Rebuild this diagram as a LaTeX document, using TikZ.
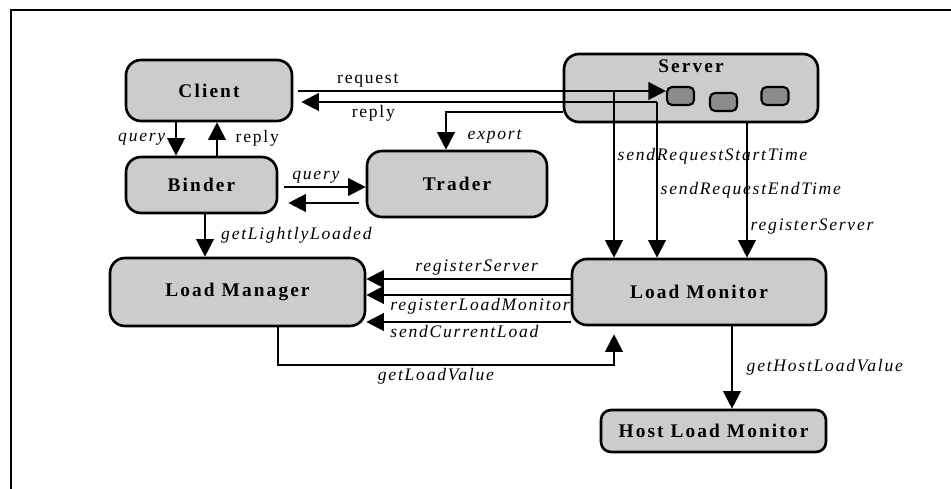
\documentclass[tikz,border=0pt]{standalone}
\usepackage{fontspec}
\setmainfont{Liberation Serif}
\newfontfamily\unitfont{Liberation Serif}[LetterSpace=11]
\newfontfamily\msgfont{Liberation Serif}[LetterSpace=10]
\usepackage{tikz}
\usetikzlibrary{arrows.meta}

\definecolor{unitgray}{gray}{0.8}
\definecolor{portgray}{gray}{0.55}

\tikzset{
  unittext/.style={font=\unitfont\bfseries\fontsize{11}{13}\selectfont},
  unit/.style={draw, line width=1.5pt, fill=unitgray, rounded corners=0.3cm,
    inner sep=0pt, unittext},
  port/.style={draw, line width=1.2pt, fill=portgray, rounded corners=0.1cm,
    minimum width=0.54cm, minimum height=0.36cm, inner sep=0pt},
  call/.style={line width=1.25pt, -{Triangle[length=10pt,width=10pt]}},
  msg/.style={font=\msgfont\itshape\fontsize{10}{12}\selectfont, inner sep=1.5pt},
  plainmsg/.style={font=\msgfont\fontsize{10}{12}\selectfont, inner sep=1.5pt}
}

\begin{document}
\begin{tikzpicture}[x=0.02cm, y=-0.02cm]
  \useasboundingbox (0,0) rectangle (951,489);
  \draw[line width=1.2pt] (11,489) -- (11,10) -- (951,10);

  % components
  \node[unit, minimum width=3.32cm, minimum height=1.22cm] (client) at (209,90.5) {Client};
  \node[unit, minimum width=5.08cm, minimum height=1.36cm,
    label={[unittext, label distance=-0.52cm]north:Server}] (server) at (691,88) {};
  \node[port] (p1) at (680.5,96) {};
  \node[port] (p2) at (723.5,102) {};
  \node[port] (p3) at (775,96) {};
  \node[unit, minimum width=3.02cm, minimum height=1.12cm] (binder) at (201.5,185) {Binder};
  \node[unit, minimum width=3.6cm, minimum height=1.32cm] (trader) at (457,184) {Trader};
  \node[unit, minimum width=5.1cm, minimum height=1.36cm] (lmgr) at (237.5,292) {Load Manager};
  \node[unit, minimum width=5.08cm, minimum height=1.32cm] (lmon) at (699,292) {Load Monitor};
  \node[unit, minimum width=4.5cm, minimum height=0.84cm, rounded corners=0.2cm] (hlm) at (713.5,431) {Host Load Monitor};

  \coordinate (st) at (614,91);
  \coordinate (et) at (657,102);
  \coordinate (ex) at (446,112);
  \coordinate (g1) at (278,365);
  \coordinate (g2) at (614,365);

  % client and server
  \draw[call, shorten <=0.1cm] (client.east |- st) -- node[plainmsg, above, pos=0.2] {request} (p1.west |- st);
  \draw[call, shorten >=0.16cm] (et) -- node[plainmsg, below, pos=0.78] {reply} (client.east |- et);
  \draw[call] (server.west |- ex) -- (ex) -- node[msg, right=0.36cm, pos=0.65] {export} (ex |- trader.north);

  % server to load monitor
  \draw[call] (st) -- node[msg, right, pos=0.39] {sendRequestStartTime} (st |- lmon.north);
  \draw[call] (et) -- node[msg, right, pos=0.57] {sendRequestEndTime} (et |- lmon.north);
  \draw[call] (server.south -| 747,0) -- node[msg, right, pos=0.77] {registerServer} (lmon.north -| 747,0);

  % client, binder, trader
  \draw[call] (client.south -| 176,0) -- node[msg, left=0.14cm] {query} (binder.north -| 176,0);
  \draw[call] (binder.north -| 217,0) -- node[plainmsg, right=0.3cm, pos=0.53] {reply} (client.south -| 217,0);
  \draw[call, shorten <=0.12cm] (binder.east |- 0,187) -- node[msg, above, pos=0.43] {query} (trader.west |- 0,187);
  \draw[call, shorten <=0.14cm, shorten >=0.2cm] (trader.west |- 0,203) -- (binder.east |- 0,203);
  \draw[call] (binder.south -| 205,0) -- node[msg, right=0.25cm] {getLightlyLoaded} (lmgr.north -| 205,0);

  % load manager and load monitor
  \draw[call] (lmon.west |- 0,279) -- node[msg, above, pos=0.46] {registerServer} (lmgr.east |- 0,279);
  \draw[call] (lmon.west |- 0,295) -- node[msg, anchor=north west, pos=0.9] {registerLoadMonitor} (lmgr.east |- 0,295);
  \draw[call] (lmon.west |- 0,322) -- node[msg, anchor=north west, pos=0.9] {sendCurrentLoad} (lmgr.east |- 0,322);
  \draw[call, shorten >=0.16cm] (lmgr.south -| g1) -- (g1) -- node[msg, below, pos=0.47] {getLoadValue} (g2) -- (lmon.south -| g2);
  \draw[call] (lmon.south -| 732,0) -- node[msg, right=0.22cm] {getHostLoadValue} (hlm.north -| 732,0);
\end{tikzpicture}
\end{document}
